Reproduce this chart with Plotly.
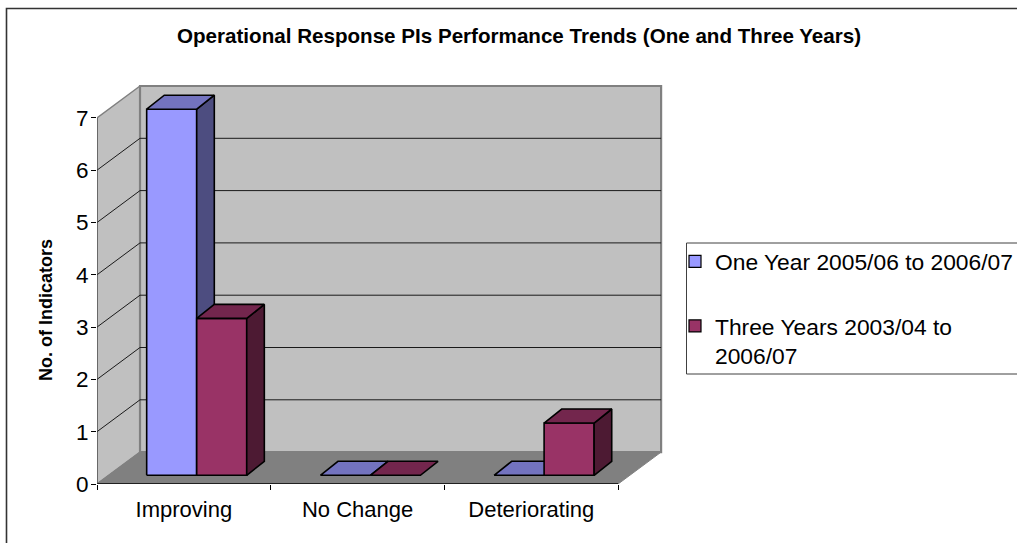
import plotly.graph_objects as go

# Chart data
categories = ["Improving", "No Change", "Deteriorating"]
one_year = [7, 0, 0]
three_years = [3, 0, 1]
y_ticks = [0, 1, 2, 3, 4, 5, 6, 7]
series_names = ["One Year 2005/06 to 2006/07", "Three Years 2003/04 to<br>2006/07"]
chart_title = "Operational Response PIs Performance Trends (One and Three Years)"
y_title = "No. of Indicators"

# Oblique projection: the depth of the box and of each bar, in axis units
DEPTH_X, DEPTH_Y = 0.2476, 0.61
BAR_DX, BAR_DY = 0.1013, 0.268
BAR_FRONT_X, BAR_FRONT_Y = 0.073, 0.166
BAR_START, BAR_WIDTH = 0.213, 0.288

WALL = "#C0C0C0"
FLOOR = "#808080"
FONT = "Liberation Sans, Arial, sans-serif"
SERIES_COLOURS = [
    ("#9999FF", "#7373BF", "#4D4D80"),
    ("#993366", "#73264D", "#4D1A33"),
]

# Plot-area placement on the page (pixels); the top and right leave room for the box edges
PAGE_W, PAGE_H = 1017, 543
L, R, T, B = 97, 345, 70, 59
PLOT_W, PLOT_H = PAGE_W - L - R, PAGE_H - T - B
CATEGORY_PX, UNIT_PX = 173.7, 52.3


def px_x(px):
    return (px - L) / PLOT_W


def px_y(py):
    return (PAGE_H - B - py) / PLOT_H


def poly(fig, xs, ys, fill, line_colour=None, width=0):
    fig.add_trace(go.Scatter(
        x=list(xs) + [xs[0]],
        y=list(ys) + [ys[0]],
        mode="lines",
        fill="toself",
        fillcolor=fill,
        line=dict(color=line_colour or "rgba(0,0,0,0)", width=width),
        hoverinfo="skip",
        showlegend=False,
        cliponaxis=False,
    ))


def segment(fig, xs, ys, colour, width):
    fig.add_trace(go.Scatter(
        x=xs, y=ys, mode="lines",
        line=dict(color=colour, width=width),
        hoverinfo="skip", showlegend=False, cliponaxis=False,
    ))


def draw_bar(fig, cat_index, series_index, value):
    front, top, side = SERIES_COLOURS[series_index]
    x0 = cat_index + BAR_FRONT_X + BAR_START + series_index * BAR_WIDTH
    x1 = x0 + BAR_WIDTH
    y0 = BAR_FRONT_Y
    y1 = y0 + value
    edge = dict(line_colour="#000000", width=1.6)
    if value > 0:
        poly(fig, [x0, x1, x1, x0], [y0, y0, y1, y1], front, **edge)
        poly(fig, [x1, x1 + BAR_DX, x1 + BAR_DX, x1],
             [y0, y0 + BAR_DY, y1 + BAR_DY, y1], side, **edge)
    poly(fig, [x0, x1, x1 + BAR_DX, x0 + BAR_DX],
         [y1, y1, y1 + BAR_DY, y1 + BAR_DY], top, **edge)


fig = go.Figure()
n = len(categories)
top_val = y_ticks[-1]

# Box: side wall, back wall and floor
poly(fig, [0, DEPTH_X, DEPTH_X, 0], [0, DEPTH_Y, DEPTH_Y + top_val, top_val], WALL, FLOOR, 1.5)
poly(fig, [DEPTH_X, DEPTH_X + n, DEPTH_X + n, DEPTH_X],
     [DEPTH_Y, DEPTH_Y, DEPTH_Y + top_val, DEPTH_Y + top_val], WALL, FLOOR, 2.2)
poly(fig, [0, n, n + DEPTH_X, DEPTH_X], [0, 0, DEPTH_Y, DEPTH_Y], FLOOR, FLOOR, 1)

# Gridlines wrap from the side wall onto the back wall
for k in y_ticks[1:-1]:
    segment(fig, [0, DEPTH_X, DEPTH_X + n], [k, k + DEPTH_Y, k + DEPTH_Y], "#1A1A1A", 1)

# Bars, painted back to front within each category
for i in range(n):
    draw_bar(fig, i, 0, one_year[i])
    draw_bar(fig, i, 1, three_years[i])

# Axis lines stop at the front corners of the box
segment(fig, [0, n], [0, 0], "#000000", 1.5)
segment(fig, [0, 0], [0, top_val], "#404040", 1)

# Legend entries
for name, colours, group in zip(series_names, SERIES_COLOURS, ["a", "b"]):
    fig.add_trace(go.Scatter(
        x=[None], y=[None], mode="markers", name=name, legendgroup=group,
        marker=dict(symbol="square", size=12, color=colours[0],
                    line=dict(color="#000000", width=1.2)),
    ))

# Outer frame and legend box run off the page on the open sides
fig.add_shape(type="path", xref="paper", yref="paper",
              path=f"M {px_x(6.5)} {px_y(PAGE_H + 5)} L {px_x(6.5)} {px_y(8.5)} L {px_x(PAGE_W + 5)} {px_y(8.5)}",
              line=dict(color="#333333", width=1.6))
fig.add_shape(type="path", xref="paper", yref="paper",
              path=f"M {px_x(PAGE_W + 5)} {px_y(243)} L {px_x(686.5)} {px_y(243)} L {px_x(686.5)} {px_y(374)} L {px_x(PAGE_W + 5)} {px_y(374)}",
              line=dict(color="#404040", width=1))

fig.update_layout(
    width=PAGE_W, height=PAGE_H,
    margin=dict(l=L, r=R, t=T, b=B, autoexpand=False),
    paper_bgcolor="#FFFFFF", plot_bgcolor="#FFFFFF",
    font=dict(family=FONT, color="#000000"),
    title=dict(text=f"<b>{chart_title}</b>", x=519 / PAGE_W, xanchor="center",
               y=1 - 36 / PAGE_H, yanchor="middle",
               font=dict(size=20.6, family=FONT, color="#000000")),
    xaxis=dict(range=[0, PLOT_W / CATEGORY_PX], tickmode="array",
               tickvals=[i + 0.5 for i in range(n)], ticktext=categories,
               ticks="", showgrid=False, zeroline=False, showline=False,
               ticklabelstandoff=10,
               tickfont=dict(size=22, family=FONT),
               minor=dict(tickmode="array", tickvals=list(range(n + 1)),
                          ticks="outside", ticklen=5, tickcolor="#000000",
                          tickwidth=1, showgrid=False)),
    yaxis=dict(range=[0, PLOT_H / UNIT_PX], tickmode="array", tickvals=y_ticks,
               ticktext=[str(v) for v in y_ticks], ticks="outside", ticklen=5,
               tickcolor="#000000", tickwidth=1, showgrid=False, zeroline=False,
               showline=False, ticklabelstandoff=-2,
               tickfont=dict(size=22.5, family=FONT)),
    legend=dict(xref="container", yref="container", x=675 / PAGE_W, y=1 - 240 / PAGE_H,
                xanchor="left", yanchor="top", traceorder="grouped", valign="top",
                tracegroupgap=32, bgcolor="rgba(0,0,0,0)", borderwidth=0,
                font=dict(size=22.8, family=FONT, color="#000000")),
    showlegend=True,
    annotations=[dict(text=f"<b>{y_title}</b>", xref="paper", yref="paper",
                      x=px_x(46), y=px_y(310), textangle=-90, showarrow=False,
                      xanchor="center", yanchor="middle",
                      font=dict(size=18, family=FONT, color="#000000"))],
)

fig.write_html("out.html")
